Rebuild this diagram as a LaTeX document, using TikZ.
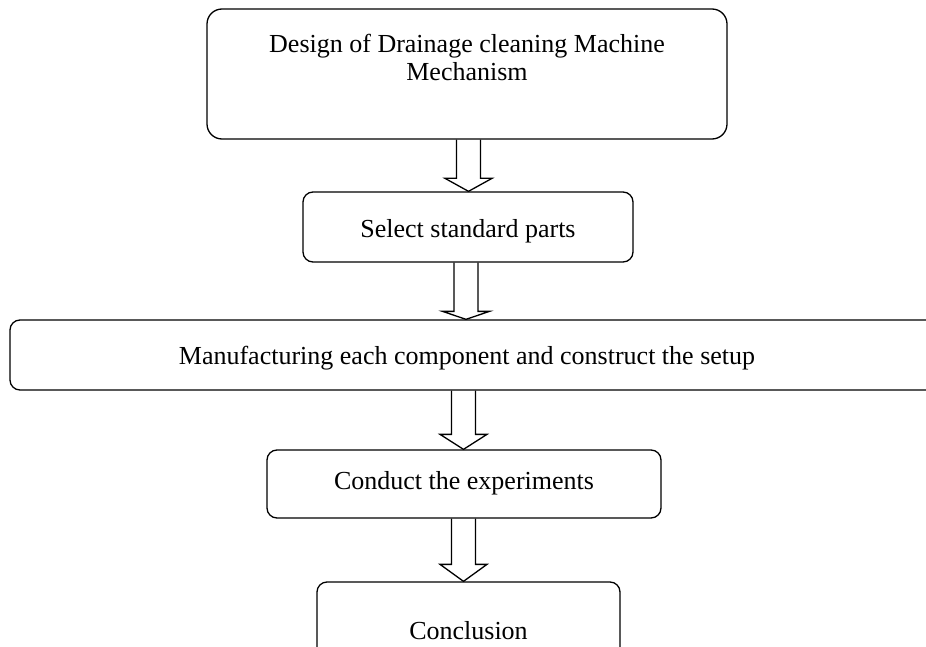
\documentclass[tikz,border=0pt]{standalone}
\usepackage{fontspec}
\setmainfont{Liberation Serif}
\usetikzlibrary{calc}
\newcommand\blockarrow[4]{%
  \draw[blk] let \p1=(#2.south), \p2=(#3.north) in
    (#1pt-12pt,\y1) -- (#1pt-12pt,\y2+#4pt) -- (#1pt-23.5pt,\y2+#4pt) -- (#1pt,\y2)
    -- (#1pt+23.5pt,\y2+#4pt) -- (#1pt+12pt,\y2+#4pt) -- (#1pt+12pt,\y1);}
\begin{document}
\begin{tikzpicture}[x=1pt,y=-1pt,line width=1.3pt,
  box/.style={draw=black,rounded corners=10pt,inner sep=0pt},
  txt/.style={font=\fontsize{26}{28}\selectfont,align=center,inner sep=0pt},
  blk/.style={draw=black,line join=miter,line width=1.3pt}]
\useasboundingbox (0,0) rectangle (926,647);
\clip (0,0) rectangle (926,647);
\fill[white] (0,0) rectangle (926,647);
% boxes
\node[box,rounded corners=15pt,minimum width=520pt,minimum height=130pt] (b1) at (467,74) {};
\node[box,minimum width=330pt,minimum height=70pt] (b2) at (468,227) {};
\node[box,minimum width=930pt,minimum height=70pt] (b3) at (475,355) {};
\node[box,minimum width=394pt,minimum height=68pt] (b4) at (464,484) {};
\node[box,minimum width=303pt,minimum height=83pt] (b5) at (468.5,623.5) {};
% texts
\node[txt,anchor=north] (t1) at (467,34) {Design of Drainage cleaning Machine\\Mechanism};
\node[txt,anchor=base] (t2) at (468,237) {Select standard parts};
\node[txt,anchor=base] (t3) at (467,364) {Manufacturing each component and construct the setup};
\node[txt,anchor=base] (t4) at (464,489) {Conduct the experiments};
\node[txt,anchor=base] (t5) at (468.5,639) {Conclusion};
% block arrows
\blockarrow{468.5}{b1}{b2}{13}
\blockarrow{466}{b2}{b3}{8}
\blockarrow{463.5}{b3}{b4}{15}
\blockarrow{463.5}{b4}{b5}{17}
\end{tikzpicture}
\end{document}
